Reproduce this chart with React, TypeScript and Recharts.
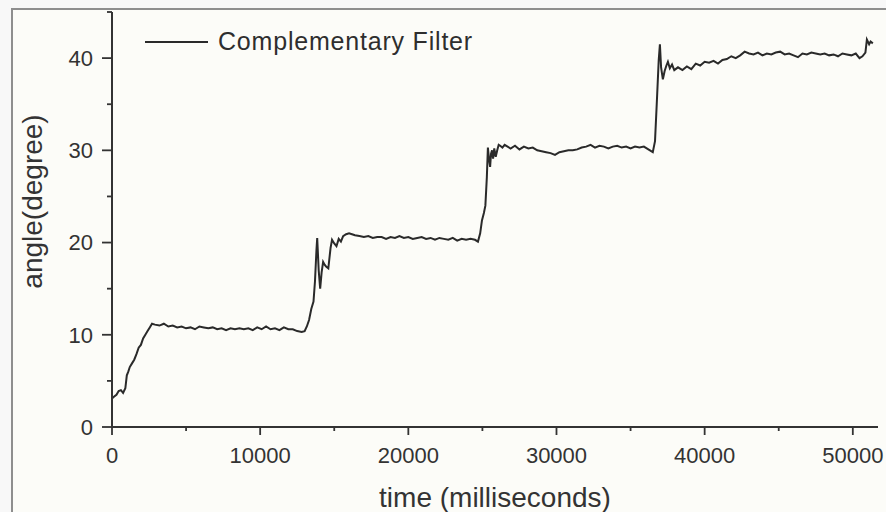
import { Label, Legend, Line, LineChart, XAxis, YAxis } from "recharts";

const FONT = '"Liberation Sans", Arial, Helvetica, sans-serif';
const INK = "#333333";

// time stamps (ms)
const timeMs = [
  // start-up ramp
  0, 150, 300, 450, 600, 750, 900, 1000, 1100, 1200, 1350, 1500, 1650, 1800, 1950, 2100, 2250, 2400, 2550, 2700,
  // ~10 deg plateau
  2900, 3200, 3500, 3800, 4100, 4400, 4700, 5000, 5300, 5600, 5900, 6200, 6500, 6800, 7100, 7400, 7700, 8000,
  8300, 8600, 8900, 9200, 9500, 9800, 10100, 10400, 10700, 11000, 11300, 11600, 11900, 12200, 12500, 12800,
  // step to 20
  13000, 13150, 13300, 13450, 13600, 13700, 13800, 13850, 13950, 14050, 14150, 14250, 14350, 14450, 14600,
  14750, 14850, 15000, 15150, 15300, 15450, 15600, 15800, 16000, 16200, 16400,
  // ~20 deg plateau
  16700, 17000, 17300, 17600, 17900, 18200, 18500, 18800, 19100, 19400, 19700, 20000, 20300, 20600, 20900,
  21200, 21500, 21800, 22100, 22400, 22700, 23000, 23300, 23600, 23900, 24200, 24500, 24700,
  // step to 30
  24850, 24970, 25100, 25200, 25300, 25370, 25450, 25520, 25580, 25650, 25720, 25800, 25900, 26000, 26100,
  26200, 26350, 26500, 26700, 26900,
  // ~30 deg plateau
  27200, 27500, 27800, 28100, 28400, 28700, 29000, 29300, 29600, 29900, 30200, 30500, 30800, 31100, 31400,
  31700, 32000, 32300, 32600, 32900, 33200, 33500, 33800, 34100, 34400, 34700, 35000, 35300, 35600, 35900,
  36200, 36500,
  // step to 40
  36650, 36780, 36900, 36980, 37060, 37180, 37300, 37420, 37520, 37650, 37800, 37950,
  // ~40 deg plateau
  38200, 38500, 38800, 39100, 39400, 39700, 40000, 40300, 40600, 40900, 41200, 41500, 41800, 42100, 42400,
  42700, 43000, 43300, 43600, 43900, 44200, 44500, 44800, 45100, 45400, 45700, 46000, 46300, 46600, 46900,
  47200, 47500, 47800, 48100, 48400, 48700, 49000, 49300, 49600, 49900, 50200, 50450, 50650, 50850, 50950,
  51100, 51200, 51350,
];

// angle (degree), same order as timeMs
const angleDeg = [
  3.1, 3.3, 3.5, 3.9, 4.0, 3.7, 4.2, 5.6, 6.0, 6.5, 6.9, 7.3, 7.9, 8.6, 8.9, 9.6, 10.0, 10.4, 10.8, 11.2,
  11.1, 11.0, 11.2, 10.9, 11.0, 10.8, 10.9, 10.7, 10.8, 10.6, 10.9, 10.8, 10.7, 10.8, 10.6, 10.7, 10.5, 10.7,
  10.6, 10.7, 10.6, 10.7, 10.5, 10.8, 10.6, 10.9, 10.6, 10.7, 10.5, 10.8, 10.6, 10.6, 10.4, 10.3,
  10.4, 10.9, 11.6, 12.8, 13.6, 15.8, 19.2, 20.5, 17.0, 15.0, 16.8, 17.9, 17.6, 17.4, 17.2,
  19.4, 20.3, 19.9, 19.6, 20.4, 20.1, 20.7, 20.9, 21.0, 20.9, 20.8,
  20.7, 20.6, 20.7, 20.5, 20.6, 20.6, 20.4, 20.6, 20.5, 20.7, 20.5, 20.6, 20.4, 20.5, 20.6,
  20.4, 20.5, 20.3, 20.5, 20.4, 20.3, 20.5, 20.2, 20.4, 20.3, 20.4, 20.3, 20.1,
  21.0, 22.4, 23.2, 24.0, 27.1, 30.3, 29.0, 28.2, 29.6, 30.0, 29.1, 30.2, 29.3, 30.0, 30.6,
  30.5, 30.3, 30.6, 30.4, 30.2,
  30.5, 30.1, 30.4, 30.2, 30.3, 30.0, 29.9, 29.8, 29.7, 29.5, 29.8, 29.9, 30.0, 30.0, 30.1,
  30.3, 30.4, 30.6, 30.3, 30.5, 30.4, 30.2, 30.4, 30.5, 30.3, 30.4, 30.2, 30.4, 30.3, 30.4,
  30.1, 29.8,
  31.0, 35.5, 39.8, 41.5, 39.0, 37.7, 38.6, 39.2, 39.6, 38.9, 39.3, 38.7,
  39.0, 38.7, 39.1, 38.8, 39.4, 39.2, 39.6, 39.5, 39.7, 39.4, 39.8, 39.9, 40.2, 40.0, 40.3,
  40.7, 40.5, 40.4, 40.6, 40.3, 40.5, 40.4, 40.6, 40.7, 40.4, 40.5, 40.3, 40.1, 40.5, 40.4,
  40.6, 40.5, 40.4, 40.5, 40.3, 40.4, 40.2, 40.5, 40.4, 40.3, 40.5, 40.0, 40.2, 40.6, 42.0,
  41.5, 41.8, 41.6,
];

const xTicks = [0, 5000, 10000, 15000, 20000, 25000, 30000, 35000, 40000, 45000, 50000];
const yTicks = [0, 5, 10, 15, 20, 25, 30, 35, 40, 45];

const data = timeMs.map((t, i) => ({ t, angle: angleDeg[i] }));

function XTick({ x, y, payload }: any) {
  const major = payload.value % 10000 === 0;
  return (
    <g>
      <line x1={x} x2={x} y1={y} y2={y + (major ? 8 : 4)} stroke={INK} strokeWidth={1.8} />
      {major && (
        <text x={x} y={y + 36} textAnchor="middle" fontSize={22} fontFamily={FONT} fill="#333">
          {payload.value}
        </text>
      )}
    </g>
  );
}

function YTick({ x, y, payload }: any) {
  const major = payload.value % 10 === 0 && payload.value <= 40;
  return (
    <g>
      <line x1={x - (major ? 10 : 5)} x2={x} y1={y} y2={y} stroke={INK} strokeWidth={1.8} />
      {major && (
        <text x={x - 19} y={y} dy="0.36em" textAnchor="end" fontSize={22} fontFamily={FONT} fill="#333">
          {payload.value}
        </text>
      )}
    </g>
  );
}

function YTitle({ viewBox }: any) {
  const cx = viewBox.x + 42;
  const cy = viewBox.y + viewBox.height / 2 - 18;
  return (
    <text
      x={cx}
      y={cy}
      textAnchor="middle"
      transform={`rotate(-90, ${cx}, ${cy})`}
      fontSize={28}
      fontFamily={FONT}
      fill="#333"
    >
      angle(degree)
    </text>
  );
}

function LegendBox({ payload }: any) {
  return (
    <div style={{ display: "flex", alignItems: "center", whiteSpace: "nowrap" }}>
      {(payload || []).map((p: any) => (
        <div key={p.value} style={{ display: "flex", alignItems: "center" }}>
          <svg width={64} height={4} style={{ display: "block" }}>
            <line x1={0} x2={63} y1={2} y2={2} stroke={p.color} strokeWidth={1.8} />
          </svg>
          <span style={{ marginLeft: 9, fontSize: 25, letterSpacing: 0.8, color: "#2e2e2e", fontFamily: FONT }}>
            {p.value}
          </span>
        </div>
      ))}
    </div>
  );
}

export default function App() {
  return (
    <div style={{ position: "fixed", left: 0, top: 0, width: 886, height: 512, background: "#f8f8f8", overflow: "hidden" }}>
      <div
        style={{
          position: "absolute",
          left: 11,
          top: 8,
          right: 0,
          bottom: 0,
          borderLeft: "2px solid #8e8e8e",
          borderTop: "2px solid #8e8e8e",
          background: "#fcfcf8",
        }}
      />
      <div style={{ position: "absolute", left: 0, top: 0 }}>
        <LineChart width={886} height={512} data={data} margin={{ top: 12, right: 8, bottom: 0, left: 0 }}>
          <XAxis
            dataKey="t"
            type="number"
            domain={[0, 51700]}
            ticks={xTicks}
            interval={0}
            height={85}
            tickSize={0}
            tickMargin={0}
            tickLine={false}
            tick={XTick}
            axisLine={{ stroke: INK, strokeWidth: 2 }}
          >
            <Label
              value="time (milliseconds)"
              position="insideBottom"
              offset={5}
              style={{ fontSize: 28, fontFamily: FONT, fill: "#333" }}
            />
          </XAxis>
          <YAxis
            type="number"
            domain={[0, 45]}
            ticks={yTicks}
            interval={0}
            width={112}
            tickSize={0}
            tickMargin={0}
            tickLine={false}
            tick={YTick}
            axisLine={{ stroke: INK, strokeWidth: 2 }}
          >
            <Label content={YTitle} />
          </YAxis>
          <Legend
            layout="horizontal"
            verticalAlign="middle"
            align="center"
            content={LegendBox}
            wrapperStyle={{ left: 145, top: 27, width: "auto", height: "auto" }}
          />
          <Line
            type="linear"
            dataKey="angle"
            name="Complementary Filter"
            stroke="#2a2a2a"
            strokeWidth={2}
            dot={false}
            activeDot={false}
            isAnimationActive={false}
          />
        </LineChart>
      </div>
    </div>
  );
}
